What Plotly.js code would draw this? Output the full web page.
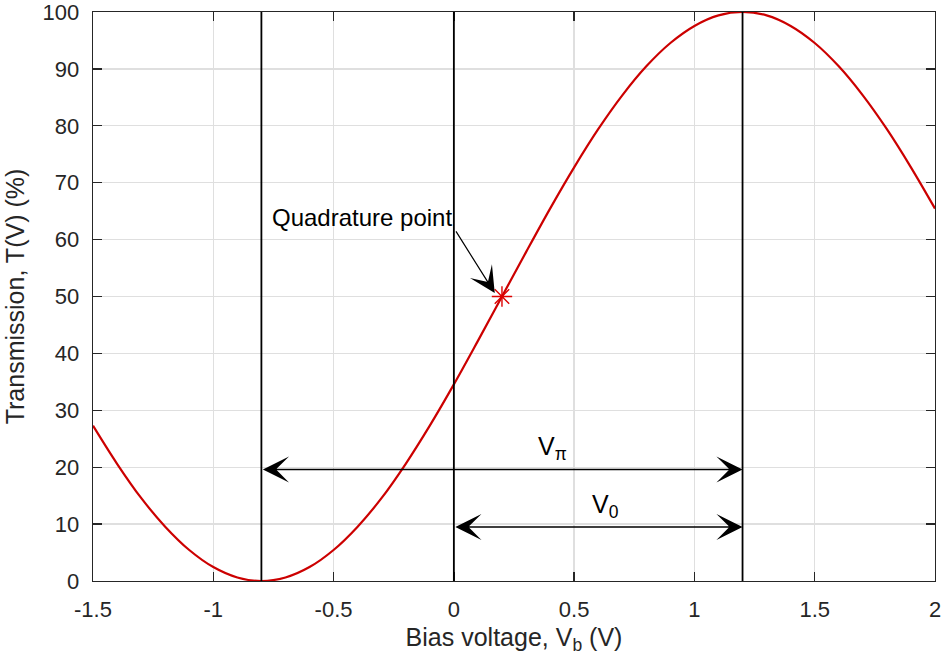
<!DOCTYPE html>
<html>
<head>
<meta charset="utf-8">
<script src="https://cdn.plot.ly/plotly-3.0.1.min.js"></script>
<style>html,body{margin:0;padding:0;background:#fff;}#chart{width:943px;height:661px;}</style>
</head>
<body>
<div id="chart"></div>
<script>
// Bias voltage samples (V) and transmission (%)
const biasV = [-1.5,-1.4,-1.3,-1.2,-1.1,-1.0,-0.9,-0.8,-0.7,-0.6,-0.5,-0.4,-0.3,-0.2,-0.1,0,0.1,0.2,0.3,0.4,0.5,0.6,0.7,0.8,0.9,1.0,1.1,1.2,1.3,1.4,1.5,1.6,1.7,1.8,1.9,2.0];
const transmission = [27.3,20.6,14.6,9.55,5.45,2.45,0.62,0,0.62,2.45,5.45,9.55,14.6,20.6,27.3,34.55,42.2,50,57.8,65.45,72.7,79.4,85.35,90.45,94.55,97.55,99.4,100,99.4,97.55,94.55,90.45,85.35,79.4,72.7,65.45];
// Quadrature point
const quadV = [0.2];
const quadT = [50];
// Vertical reference lines (V)
const refLines = [-0.8, 0, 1.2];
// Dimension arrows: [x start, x end, y level]
const vpiArrow = [-0.8, 1.2, 19.6];
const v0Arrow = [0, 1.2, 9.5];
// Tick labels
const xTicks = [-1.5,-1,-0.5,0,0.5,1,1.5,2];
const xTickText = ['-1.5','-1','-0.5','0','0.5','1','1.5','2'];
const yTicks = [0,10,20,30,40,50,60,70,80,90,100];

const font = 'Liberation Sans, Arial, Helvetica, sans-serif';
const axisCol = '#262626';

const traces = [
  {x: biasV, y: transmission, mode: 'lines', line: {color: '#cc0000', width: 2.2, shape: 'spline', smoothing: 1}, hoverinfo: 'skip'},
  {x: quadV, y: quadT, mode: 'markers', marker: {symbol: 'asterisk-open', size: 17, color: '#dd0000', line: {color: '#dd0000', width: 1.4}}, hoverinfo: 'skip'}
];

const shapes = refLines.map(v => ({type: 'line', xref: 'x', yref: 'y', x0: v, x1: v, y0: 0, y1: 100, line: {color: '#000', width: 1.8}}));

const arrowStyle = {showarrow: true, arrowhead: 3, startarrowhead: 3, arrowsize: 2.9, startarrowsize: 2.9, arrowwidth: 1.5, arrowcolor: '#000', text: ''};

const annotations = [
  Object.assign({x: vpiArrow[1], y: vpiArrow[2], ax: vpiArrow[0], ay: vpiArrow[2], xref: 'x', yref: 'y', axref: 'x', ayref: 'y', arrowside: 'end+start'}, arrowStyle),
  Object.assign({x: v0Arrow[1], y: v0Arrow[2], ax: v0Arrow[0], ay: v0Arrow[2], xref: 'x', yref: 'y', axref: 'x', ayref: 'y', arrowside: 'end+start'}, arrowStyle),
  {x: 0.17, y: 50.6, ax: 0.005, ay: 61.7, xref: 'x', yref: 'y', axref: 'x', ayref: 'y', text: '', showarrow: true, arrowhead: 3, arrowsize: 3.6, arrowwidth: 1.2, arrowcolor: '#000'},
  {x: 0, y: 63.8, xref: 'x', yref: 'y', xanchor: 'right', yanchor: 'middle', text: 'Quadrature point', showarrow: false, font: {family: font, size: 24, color: '#000'}},
  {x: 0.41, y: 20.2, xref: 'x', yref: 'y', xanchor: 'center', yanchor: 'bottom', text: 'V<sub>π</sub>', showarrow: false, font: {family: font, size: 25, color: '#000'}},
  {x: 0.63, y: 10.1, xref: 'x', yref: 'y', xanchor: 'center', yanchor: 'bottom', text: 'V<sub>0</sub>', showarrow: false, font: {family: font, size: 25, color: '#000'}}
];

const layout = {
  width: 943, height: 661,
  margin: {l: 93, r: 8, t: 12, b: 80},
  paper_bgcolor: '#fff', plot_bgcolor: '#fff',
  showlegend: false,
  font: {family: font, size: 22, color: axisCol},
  xaxis: {
    range: [-1.5, 2], tickvals: xTicks, ticktext: xTickText,
    showgrid: true, gridcolor: '#dfdfdf', gridwidth: 1.3, zeroline: false,
    showline: true, linecolor: axisCol, linewidth: 1.3, mirror: 'ticks',
    ticks: 'inside', ticklen: 9, tickwidth: 1.3, tickcolor: axisCol,
    ticklabelstandoff: 8, ticklabeloverflow: 'allow',
    tickfont: {family: font, size: 22, color: axisCol},
    title: {text: 'Bias voltage, V<sub>b</sub> (V)', font: {family: font, size: 25, color: axisCol}, standoff: 7}
  },
  yaxis: {
    range: [0, 100], tickvals: yTicks,
    showgrid: true, gridcolor: '#dfdfdf', gridwidth: 1.3, zeroline: false,
    showline: true, linecolor: axisCol, linewidth: 1.3, mirror: 'ticks',
    ticks: 'inside', ticklen: 9, tickwidth: 1.3, tickcolor: axisCol,
    ticklabelstandoff: 8, ticklabeloverflow: 'allow',
    tickfont: {family: font, size: 22, color: axisCol},
    title: {text: 'Transmission, T(V) (%)', font: {family: font, size: 25, color: axisCol}, standoff: 10}
  },
  shapes: shapes,
  annotations: annotations
};

Plotly.newPlot('chart', traces, layout, {staticPlot: true, displayModeBar: false});
</script>
</body>
</html>
